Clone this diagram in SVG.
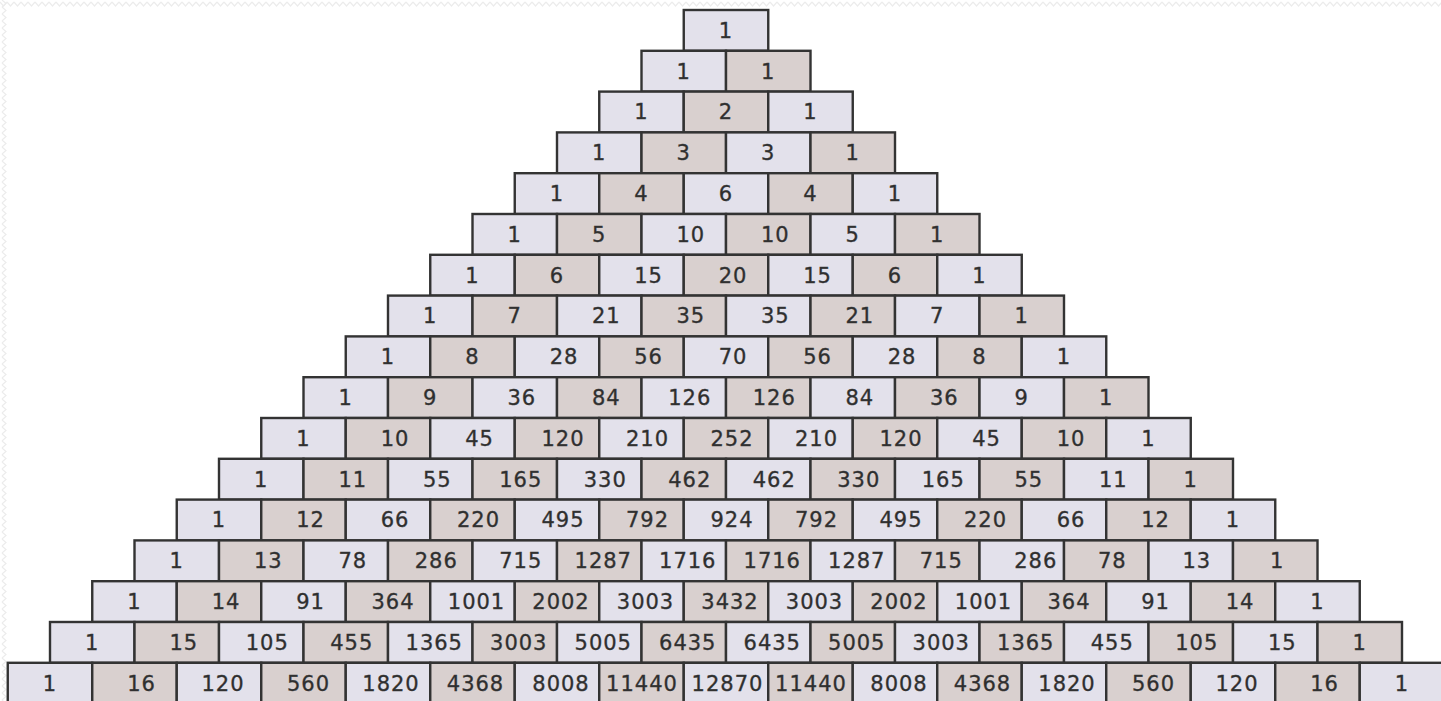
<svg xmlns="http://www.w3.org/2000/svg" width="1441" height="701" viewBox="0 0 1441 701">
<style>
.l{fill:#e3e1eb;stroke:#333;stroke-width:2.4}
.d{fill:#d9d0cf;stroke:#333;stroke-width:2.4}
text{font-family:"DejaVu Sans","Liberation Sans",sans-serif;font-size:21px;letter-spacing:1px;fill:#2e2e2e;stroke:#3a3a3a;stroke-width:0.35;text-anchor:middle}
</style>
<defs>
<pattern id="zzh" width="7" height="8" patternUnits="userSpaceOnUse"><path d="M0,2 L3.5,6 L7,2" fill="none" stroke="#ececec" stroke-width="1.2"/></pattern>
<pattern id="zzv" width="8" height="7" patternUnits="userSpaceOnUse"><path d="M2,0 L6,3.5 L2,7" fill="none" stroke="#ececec" stroke-width="1.2"/></pattern>
</defs>
<rect width="1441" height="701" fill="#fff"/>
<rect x="0" y="0" width="1441" height="8" fill="url(#zzh)"/>
<rect x="0" y="0" width="8" height="701" fill="url(#zzv)"/>
<g id="triangle">
<g id="row0" transform="translate(683.75,10)">
<g id="r0c0" transform="translate(0,0)"><rect class="l" width="84.5" height="40.8"/><text x="42.25" y="27.8">1</text></g>
</g>
<g id="row1" transform="translate(641.5,50.8)">
<g id="r1c0" transform="translate(0,0)"><rect class="l" width="84.5" height="40.8"/><text x="42.25" y="27.8">1</text></g>
<g id="r1c1" transform="translate(84.5,0)"><rect class="d" width="84.5" height="40.8"/><text x="42.25" y="27.8">1</text></g>
</g>
<g id="row2" transform="translate(599.25,91.6)">
<g id="r2c0" transform="translate(0,0)"><rect class="l" width="84.5" height="40.8"/><text x="42.25" y="27.8">1</text></g>
<g id="r2c1" transform="translate(84.5,0)"><rect class="d" width="84.5" height="40.8"/><text x="42.25" y="27.8">2</text></g>
<g id="r2c2" transform="translate(169,0)"><rect class="l" width="84.5" height="40.8"/><text x="42.25" y="27.8">1</text></g>
</g>
<g id="row3" transform="translate(557,132.4)">
<g id="r3c0" transform="translate(0,0)"><rect class="l" width="84.5" height="40.8"/><text x="42.25" y="27.8">1</text></g>
<g id="r3c1" transform="translate(84.5,0)"><rect class="d" width="84.5" height="40.8"/><text x="42.25" y="27.8">3</text></g>
<g id="r3c2" transform="translate(169,0)"><rect class="l" width="84.5" height="40.8"/><text x="42.25" y="27.8">3</text></g>
<g id="r3c3" transform="translate(253.5,0)"><rect class="d" width="84.5" height="40.8"/><text x="42.25" y="27.8">1</text></g>
</g>
<g id="row4" transform="translate(514.75,173.2)">
<g id="r4c0" transform="translate(0,0)"><rect class="l" width="84.5" height="40.8"/><text x="42.25" y="27.8">1</text></g>
<g id="r4c1" transform="translate(84.5,0)"><rect class="d" width="84.5" height="40.8"/><text x="42.25" y="27.8">4</text></g>
<g id="r4c2" transform="translate(169,0)"><rect class="l" width="84.5" height="40.8"/><text x="42.25" y="27.8">6</text></g>
<g id="r4c3" transform="translate(253.5,0)"><rect class="d" width="84.5" height="40.8"/><text x="42.25" y="27.8">4</text></g>
<g id="r4c4" transform="translate(338,0)"><rect class="l" width="84.5" height="40.8"/><text x="42.25" y="27.8">1</text></g>
</g>
<g id="row5" transform="translate(472.5,214)">
<g id="r5c0" transform="translate(0,0)"><rect class="l" width="84.5" height="40.8"/><text x="42.25" y="27.8">1</text></g>
<g id="r5c1" transform="translate(84.5,0)"><rect class="d" width="84.5" height="40.8"/><text x="42.25" y="27.8">5</text></g>
<g id="r5c2" transform="translate(169,0)"><rect class="l" width="84.5" height="40.8"/><text x="49.25" y="27.8">10</text></g>
<g id="r5c3" transform="translate(253.5,0)"><rect class="d" width="84.5" height="40.8"/><text x="49.25" y="27.8">10</text></g>
<g id="r5c4" transform="translate(338,0)"><rect class="l" width="84.5" height="40.8"/><text x="42.25" y="27.8">5</text></g>
<g id="r5c5" transform="translate(422.5,0)"><rect class="d" width="84.5" height="40.8"/><text x="42.25" y="27.8">1</text></g>
</g>
<g id="row6" transform="translate(430.25,254.8)">
<g id="r6c0" transform="translate(0,0)"><rect class="l" width="84.5" height="40.8"/><text x="42.25" y="27.8">1</text></g>
<g id="r6c1" transform="translate(84.5,0)"><rect class="d" width="84.5" height="40.8"/><text x="42.25" y="27.8">6</text></g>
<g id="r6c2" transform="translate(169,0)"><rect class="l" width="84.5" height="40.8"/><text x="49.25" y="27.8">15</text></g>
<g id="r6c3" transform="translate(253.5,0)"><rect class="d" width="84.5" height="40.8"/><text x="49.25" y="27.8">20</text></g>
<g id="r6c4" transform="translate(338,0)"><rect class="l" width="84.5" height="40.8"/><text x="49.25" y="27.8">15</text></g>
<g id="r6c5" transform="translate(422.5,0)"><rect class="d" width="84.5" height="40.8"/><text x="42.25" y="27.8">6</text></g>
<g id="r6c6" transform="translate(507,0)"><rect class="l" width="84.5" height="40.8"/><text x="42.25" y="27.8">1</text></g>
</g>
<g id="row7" transform="translate(388,295.6)">
<g id="r7c0" transform="translate(0,0)"><rect class="l" width="84.5" height="40.8"/><text x="42.25" y="27.8">1</text></g>
<g id="r7c1" transform="translate(84.5,0)"><rect class="d" width="84.5" height="40.8"/><text x="42.25" y="27.8">7</text></g>
<g id="r7c2" transform="translate(169,0)"><rect class="l" width="84.5" height="40.8"/><text x="49.25" y="27.8">21</text></g>
<g id="r7c3" transform="translate(253.5,0)"><rect class="d" width="84.5" height="40.8"/><text x="49.25" y="27.8">35</text></g>
<g id="r7c4" transform="translate(338,0)"><rect class="l" width="84.5" height="40.8"/><text x="49.25" y="27.8">35</text></g>
<g id="r7c5" transform="translate(422.5,0)"><rect class="d" width="84.5" height="40.8"/><text x="49.25" y="27.8">21</text></g>
<g id="r7c6" transform="translate(507,0)"><rect class="l" width="84.5" height="40.8"/><text x="42.25" y="27.8">7</text></g>
<g id="r7c7" transform="translate(591.5,0)"><rect class="d" width="84.5" height="40.8"/><text x="42.25" y="27.8">1</text></g>
</g>
<g id="row8" transform="translate(345.75,336.4)">
<g id="r8c0" transform="translate(0,0)"><rect class="l" width="84.5" height="40.8"/><text x="42.25" y="27.8">1</text></g>
<g id="r8c1" transform="translate(84.5,0)"><rect class="d" width="84.5" height="40.8"/><text x="42.25" y="27.8">8</text></g>
<g id="r8c2" transform="translate(169,0)"><rect class="l" width="84.5" height="40.8"/><text x="49.25" y="27.8">28</text></g>
<g id="r8c3" transform="translate(253.5,0)"><rect class="d" width="84.5" height="40.8"/><text x="49.25" y="27.8">56</text></g>
<g id="r8c4" transform="translate(338,0)"><rect class="l" width="84.5" height="40.8"/><text x="49.25" y="27.8">70</text></g>
<g id="r8c5" transform="translate(422.5,0)"><rect class="d" width="84.5" height="40.8"/><text x="49.25" y="27.8">56</text></g>
<g id="r8c6" transform="translate(507,0)"><rect class="l" width="84.5" height="40.8"/><text x="49.25" y="27.8">28</text></g>
<g id="r8c7" transform="translate(591.5,0)"><rect class="d" width="84.5" height="40.8"/><text x="42.25" y="27.8">8</text></g>
<g id="r8c8" transform="translate(676,0)"><rect class="l" width="84.5" height="40.8"/><text x="42.25" y="27.8">1</text></g>
</g>
<g id="row9" transform="translate(303.5,377.2)">
<g id="r9c0" transform="translate(0,0)"><rect class="l" width="84.5" height="40.8"/><text x="42.25" y="27.8">1</text></g>
<g id="r9c1" transform="translate(84.5,0)"><rect class="d" width="84.5" height="40.8"/><text x="42.25" y="27.8">9</text></g>
<g id="r9c2" transform="translate(169,0)"><rect class="l" width="84.5" height="40.8"/><text x="49.25" y="27.8">36</text></g>
<g id="r9c3" transform="translate(253.5,0)"><rect class="d" width="84.5" height="40.8"/><text x="49.25" y="27.8">84</text></g>
<g id="r9c4" transform="translate(338,0)"><rect class="l" width="84.5" height="40.8"/><text x="48.25" y="27.8">126</text></g>
<g id="r9c5" transform="translate(422.5,0)"><rect class="d" width="84.5" height="40.8"/><text x="48.25" y="27.8">126</text></g>
<g id="r9c6" transform="translate(507,0)"><rect class="l" width="84.5" height="40.8"/><text x="49.25" y="27.8">84</text></g>
<g id="r9c7" transform="translate(591.5,0)"><rect class="d" width="84.5" height="40.8"/><text x="49.25" y="27.8">36</text></g>
<g id="r9c8" transform="translate(676,0)"><rect class="l" width="84.5" height="40.8"/><text x="42.25" y="27.8">9</text></g>
<g id="r9c9" transform="translate(760.5,0)"><rect class="d" width="84.5" height="40.8"/><text x="42.25" y="27.8">1</text></g>
</g>
<g id="row10" transform="translate(261.25,418)">
<g id="r10c0" transform="translate(0,0)"><rect class="l" width="84.5" height="40.8"/><text x="42.25" y="27.8">1</text></g>
<g id="r10c1" transform="translate(84.5,0)"><rect class="d" width="84.5" height="40.8"/><text x="49.25" y="27.8">10</text></g>
<g id="r10c2" transform="translate(169,0)"><rect class="l" width="84.5" height="40.8"/><text x="49.25" y="27.8">45</text></g>
<g id="r10c3" transform="translate(253.5,0)"><rect class="d" width="84.5" height="40.8"/><text x="48.25" y="27.8">120</text></g>
<g id="r10c4" transform="translate(338,0)"><rect class="l" width="84.5" height="40.8"/><text x="48.25" y="27.8">210</text></g>
<g id="r10c5" transform="translate(422.5,0)"><rect class="d" width="84.5" height="40.8"/><text x="48.25" y="27.8">252</text></g>
<g id="r10c6" transform="translate(507,0)"><rect class="l" width="84.5" height="40.8"/><text x="48.25" y="27.8">210</text></g>
<g id="r10c7" transform="translate(591.5,0)"><rect class="d" width="84.5" height="40.8"/><text x="48.25" y="27.8">120</text></g>
<g id="r10c8" transform="translate(676,0)"><rect class="l" width="84.5" height="40.8"/><text x="49.25" y="27.8">45</text></g>
<g id="r10c9" transform="translate(760.5,0)"><rect class="d" width="84.5" height="40.8"/><text x="49.25" y="27.8">10</text></g>
<g id="r10c10" transform="translate(845,0)"><rect class="l" width="84.5" height="40.8"/><text x="42.25" y="27.8">1</text></g>
</g>
<g id="row11" transform="translate(219,458.8)">
<g id="r11c0" transform="translate(0,0)"><rect class="l" width="84.5" height="40.8"/><text x="42.25" y="27.8">1</text></g>
<g id="r11c1" transform="translate(84.5,0)"><rect class="d" width="84.5" height="40.8"/><text x="49.25" y="27.8">11</text></g>
<g id="r11c2" transform="translate(169,0)"><rect class="l" width="84.5" height="40.8"/><text x="49.25" y="27.8">55</text></g>
<g id="r11c3" transform="translate(253.5,0)"><rect class="d" width="84.5" height="40.8"/><text x="48.25" y="27.8">165</text></g>
<g id="r11c4" transform="translate(338,0)"><rect class="l" width="84.5" height="40.8"/><text x="48.25" y="27.8">330</text></g>
<g id="r11c5" transform="translate(422.5,0)"><rect class="d" width="84.5" height="40.8"/><text x="48.25" y="27.8">462</text></g>
<g id="r11c6" transform="translate(507,0)"><rect class="l" width="84.5" height="40.8"/><text x="48.25" y="27.8">462</text></g>
<g id="r11c7" transform="translate(591.5,0)"><rect class="d" width="84.5" height="40.8"/><text x="48.25" y="27.8">330</text></g>
<g id="r11c8" transform="translate(676,0)"><rect class="l" width="84.5" height="40.8"/><text x="48.25" y="27.8">165</text></g>
<g id="r11c9" transform="translate(760.5,0)"><rect class="d" width="84.5" height="40.8"/><text x="49.25" y="27.8">55</text></g>
<g id="r11c10" transform="translate(845,0)"><rect class="l" width="84.5" height="40.8"/><text x="49.25" y="27.8">11</text></g>
<g id="r11c11" transform="translate(929.5,0)"><rect class="d" width="84.5" height="40.8"/><text x="42.25" y="27.8">1</text></g>
</g>
<g id="row12" transform="translate(176.75,499.6)">
<g id="r12c0" transform="translate(0,0)"><rect class="l" width="84.5" height="40.8"/><text x="42.25" y="27.8">1</text></g>
<g id="r12c1" transform="translate(84.5,0)"><rect class="d" width="84.5" height="40.8"/><text x="49.25" y="27.8">12</text></g>
<g id="r12c2" transform="translate(169,0)"><rect class="l" width="84.5" height="40.8"/><text x="49.25" y="27.8">66</text></g>
<g id="r12c3" transform="translate(253.5,0)"><rect class="d" width="84.5" height="40.8"/><text x="48.25" y="27.8">220</text></g>
<g id="r12c4" transform="translate(338,0)"><rect class="l" width="84.5" height="40.8"/><text x="48.25" y="27.8">495</text></g>
<g id="r12c5" transform="translate(422.5,0)"><rect class="d" width="84.5" height="40.8"/><text x="48.25" y="27.8">792</text></g>
<g id="r12c6" transform="translate(507,0)"><rect class="l" width="84.5" height="40.8"/><text x="48.25" y="27.8">924</text></g>
<g id="r12c7" transform="translate(591.5,0)"><rect class="d" width="84.5" height="40.8"/><text x="48.25" y="27.8">792</text></g>
<g id="r12c8" transform="translate(676,0)"><rect class="l" width="84.5" height="40.8"/><text x="48.25" y="27.8">495</text></g>
<g id="r12c9" transform="translate(760.5,0)"><rect class="d" width="84.5" height="40.8"/><text x="48.25" y="27.8">220</text></g>
<g id="r12c10" transform="translate(845,0)"><rect class="l" width="84.5" height="40.8"/><text x="49.25" y="27.8">66</text></g>
<g id="r12c11" transform="translate(929.5,0)"><rect class="d" width="84.5" height="40.8"/><text x="49.25" y="27.8">12</text></g>
<g id="r12c12" transform="translate(1014,0)"><rect class="l" width="84.5" height="40.8"/><text x="42.25" y="27.8">1</text></g>
</g>
<g id="row13" transform="translate(134.5,540.4)">
<g id="r13c0" transform="translate(0,0)"><rect class="l" width="84.5" height="40.8"/><text x="42.25" y="27.8">1</text></g>
<g id="r13c1" transform="translate(84.5,0)"><rect class="d" width="84.5" height="40.8"/><text x="49.25" y="27.8">13</text></g>
<g id="r13c2" transform="translate(169,0)"><rect class="l" width="84.5" height="40.8"/><text x="49.25" y="27.8">78</text></g>
<g id="r13c3" transform="translate(253.5,0)"><rect class="d" width="84.5" height="40.8"/><text x="48.25" y="27.8">286</text></g>
<g id="r13c4" transform="translate(338,0)"><rect class="l" width="84.5" height="40.8"/><text x="48.25" y="27.8">715</text></g>
<g id="r13c5" transform="translate(422.5,0)"><rect class="d" width="84.5" height="40.8"/><text x="46.25" y="27.8">1287</text></g>
<g id="r13c6" transform="translate(507,0)"><rect class="l" width="84.5" height="40.8"/><text x="46.25" y="27.8">1716</text></g>
<g id="r13c7" transform="translate(591.5,0)"><rect class="d" width="84.5" height="40.8"/><text x="46.25" y="27.8">1716</text></g>
<g id="r13c8" transform="translate(676,0)"><rect class="l" width="84.5" height="40.8"/><text x="46.25" y="27.8">1287</text></g>
<g id="r13c9" transform="translate(760.5,0)"><rect class="d" width="84.5" height="40.8"/><text x="46.25" y="27.8">715</text></g>
<g id="r13c10" transform="translate(845,0)"><rect class="l" width="84.5" height="40.8"/><text x="56.25" y="27.8">286</text></g>
<g id="r13c11" transform="translate(929.5,0)"><rect class="d" width="84.5" height="40.8"/><text x="48.25" y="27.8">78</text></g>
<g id="r13c12" transform="translate(1014,0)"><rect class="l" width="84.5" height="40.8"/><text x="48.25" y="27.8">13</text></g>
<g id="r13c13" transform="translate(1098.5,0)"><rect class="d" width="84.5" height="40.8"/><text x="44.25" y="27.8">1</text></g>
</g>
<g id="row14" transform="translate(92.25,581.2)">
<g id="r14c0" transform="translate(0,0)"><rect class="l" width="84.5" height="40.8"/><text x="42.25" y="27.8">1</text></g>
<g id="r14c1" transform="translate(84.5,0)"><rect class="d" width="84.5" height="40.8"/><text x="49.25" y="27.8">14</text></g>
<g id="r14c2" transform="translate(169,0)"><rect class="l" width="84.5" height="40.8"/><text x="49.25" y="27.8">91</text></g>
<g id="r14c3" transform="translate(253.5,0)"><rect class="d" width="84.5" height="40.8"/><text x="47.25" y="27.8">364</text></g>
<g id="r14c4" transform="translate(338,0)"><rect class="l" width="84.5" height="40.8"/><text x="46.25" y="27.8">1001</text></g>
<g id="r14c5" transform="translate(422.5,0)"><rect class="d" width="84.5" height="40.8"/><text x="46.25" y="27.8">2002</text></g>
<g id="r14c6" transform="translate(507,0)"><rect class="l" width="84.5" height="40.8"/><text x="46.25" y="27.8">3003</text></g>
<g id="r14c7" transform="translate(591.5,0)"><rect class="d" width="84.5" height="40.8"/><text x="46.25" y="27.8">3432</text></g>
<g id="r14c8" transform="translate(676,0)"><rect class="l" width="84.5" height="40.8"/><text x="46.25" y="27.8">3003</text></g>
<g id="r14c9" transform="translate(760.5,0)"><rect class="d" width="84.5" height="40.8"/><text x="46.25" y="27.8">2002</text></g>
<g id="r14c10" transform="translate(845,0)"><rect class="l" width="84.5" height="40.8"/><text x="46.25" y="27.8">1001</text></g>
<g id="r14c11" transform="translate(929.5,0)"><rect class="d" width="84.5" height="40.8"/><text x="47.25" y="27.8">364</text></g>
<g id="r14c12" transform="translate(1014,0)"><rect class="l" width="84.5" height="40.8"/><text x="49.25" y="27.8">91</text></g>
<g id="r14c13" transform="translate(1098.5,0)"><rect class="d" width="84.5" height="40.8"/><text x="49.25" y="27.8">14</text></g>
<g id="r14c14" transform="translate(1183,0)"><rect class="l" width="84.5" height="40.8"/><text x="42.25" y="27.8">1</text></g>
</g>
<g id="row15" transform="translate(50,622)">
<g id="r15c0" transform="translate(0,0)"><rect class="l" width="84.5" height="40.8"/><text x="42.25" y="27.8">1</text></g>
<g id="r15c1" transform="translate(84.5,0)"><rect class="d" width="84.5" height="40.8"/><text x="49.25" y="27.8">15</text></g>
<g id="r15c2" transform="translate(169,0)"><rect class="l" width="84.5" height="40.8"/><text x="48.25" y="27.8">105</text></g>
<g id="r15c3" transform="translate(253.5,0)"><rect class="d" width="84.5" height="40.8"/><text x="48.25" y="27.8">455</text></g>
<g id="r15c4" transform="translate(338,0)"><rect class="l" width="84.5" height="40.8"/><text x="46.25" y="27.8">1365</text></g>
<g id="r15c5" transform="translate(422.5,0)"><rect class="d" width="84.5" height="40.8"/><text x="46.25" y="27.8">3003</text></g>
<g id="r15c6" transform="translate(507,0)"><rect class="l" width="84.5" height="40.8"/><text x="46.25" y="27.8">5005</text></g>
<g id="r15c7" transform="translate(591.5,0)"><rect class="d" width="84.5" height="40.8"/><text x="46.25" y="27.8">6435</text></g>
<g id="r15c8" transform="translate(676,0)"><rect class="l" width="84.5" height="40.8"/><text x="46.25" y="27.8">6435</text></g>
<g id="r15c9" transform="translate(760.5,0)"><rect class="d" width="84.5" height="40.8"/><text x="46.25" y="27.8">5005</text></g>
<g id="r15c10" transform="translate(845,0)"><rect class="l" width="84.5" height="40.8"/><text x="46.25" y="27.8">3003</text></g>
<g id="r15c11" transform="translate(929.5,0)"><rect class="d" width="84.5" height="40.8"/><text x="46.25" y="27.8">1365</text></g>
<g id="r15c12" transform="translate(1014,0)"><rect class="l" width="84.5" height="40.8"/><text x="48.25" y="27.8">455</text></g>
<g id="r15c13" transform="translate(1098.5,0)"><rect class="d" width="84.5" height="40.8"/><text x="48.25" y="27.8">105</text></g>
<g id="r15c14" transform="translate(1183,0)"><rect class="l" width="84.5" height="40.8"/><text x="49.25" y="27.8">15</text></g>
<g id="r15c15" transform="translate(1267.5,0)"><rect class="d" width="84.5" height="40.8"/><text x="42.25" y="27.8">1</text></g>
</g>
<g id="row16" transform="translate(7.75,662.8)">
<g id="r16c0" transform="translate(0,0)"><rect class="l" width="84.5" height="40.8"/><text x="42.25" y="27.8">1</text></g>
<g id="r16c1" transform="translate(84.5,0)"><rect class="d" width="84.5" height="40.8"/><text x="49.25" y="27.8">16</text></g>
<g id="r16c2" transform="translate(169,0)"><rect class="l" width="84.5" height="40.8"/><text x="46.25" y="27.8">120</text></g>
<g id="r16c3" transform="translate(253.5,0)"><rect class="d" width="84.5" height="40.8"/><text x="47.25" y="27.8">560</text></g>
<g id="r16c4" transform="translate(338,0)"><rect class="l" width="84.5" height="40.8"/><text x="45.25" y="27.8">1820</text></g>
<g id="r16c5" transform="translate(422.5,0)"><rect class="d" width="84.5" height="40.8"/><text x="45.25" y="27.8">4368</text></g>
<g id="r16c6" transform="translate(507,0)"><rect class="l" width="84.5" height="40.8"/><text x="46.25" y="27.8">8008</text></g>
<g id="r16c7" transform="translate(591.5,0)"><rect class="d" width="84.5" height="40.8"/><text x="42.75" y="27.8">11440</text></g>
<g id="r16c8" transform="translate(676,0)"><rect class="l" width="84.5" height="40.8"/><text x="43.75" y="27.8">12870</text></g>
<g id="r16c9" transform="translate(760.5,0)"><rect class="d" width="84.5" height="40.8"/><text x="42.75" y="27.8">11440</text></g>
<g id="r16c10" transform="translate(845,0)"><rect class="l" width="84.5" height="40.8"/><text x="46.25" y="27.8">8008</text></g>
<g id="r16c11" transform="translate(929.5,0)"><rect class="d" width="84.5" height="40.8"/><text x="45.25" y="27.8">4368</text></g>
<g id="r16c12" transform="translate(1014,0)"><rect class="l" width="84.5" height="40.8"/><text x="45.25" y="27.8">1820</text></g>
<g id="r16c13" transform="translate(1098.5,0)"><rect class="d" width="84.5" height="40.8"/><text x="47.25" y="27.8">560</text></g>
<g id="r16c14" transform="translate(1183,0)"><rect class="l" width="84.5" height="40.8"/><text x="46.25" y="27.8">120</text></g>
<g id="r16c15" transform="translate(1267.5,0)"><rect class="d" width="84.5" height="40.8"/><text x="49.25" y="27.8">16</text></g>
<g id="r16c16" transform="translate(1352,0)"><rect class="l" width="84.5" height="40.8"/><text x="42.25" y="27.8">1</text></g>
</g>
</g>
</svg>
